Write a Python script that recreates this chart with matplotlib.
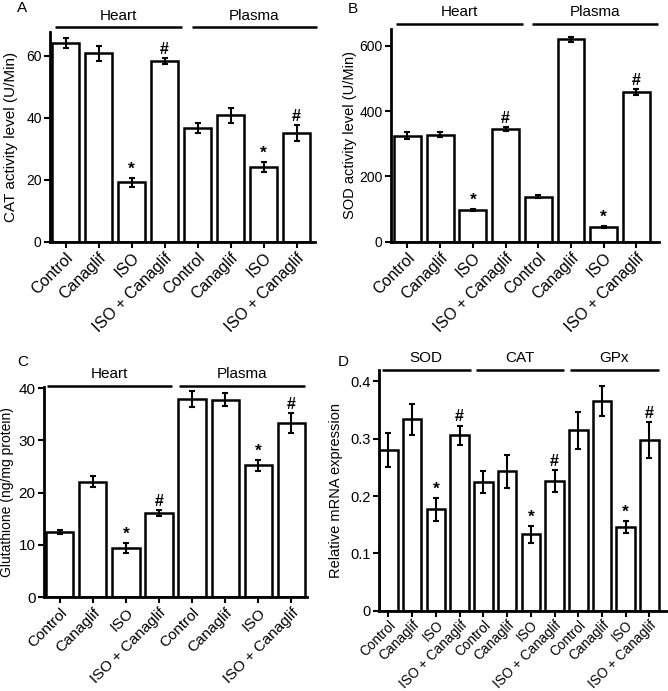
import numpy as np
import matplotlib.pyplot as plt
from matplotlib.transforms import blended_transform_factory

plt.rcParams['font.family'] = ['Liberation Sans', 'DejaVu Sans']

groups = ['Control', 'Canaglif', 'ISO', 'ISO + Canaglif']

# Panel A: CAT activity (U/Min)
cat_mean = [64.2, 60.8, 19.2, 58.3, 36.7, 40.8, 24.2, 35.0]
cat_err = [1.5, 2.5, 1.5, 1.0, 1.5, 2.5, 1.5, 2.6]
# Panel B: SOD activity (U/Min)
sod_mean = [325, 328, 97, 345, 138, 620, 45, 458]
sod_err = [10, 8, 3, 6, 5, 8, 3, 8]
# Panel C: Glutathione (ng/mg protein)
gsh_mean = [12.5, 22.1, 9.4, 16.1, 38.0, 37.8, 25.2, 33.4]
gsh_err = [0.4, 1.0, 0.9, 0.6, 1.5, 1.2, 1.0, 1.9]
# Panel D: relative mRNA expression
mrna_mean = [0.280, 0.334, 0.177, 0.306,
             0.225, 0.243, 0.133, 0.226,
             0.315, 0.366, 0.146, 0.298]
mrna_err = [0.030, 0.027, 0.020, 0.017,
            0.019, 0.028, 0.015, 0.019,
            0.032, 0.027, 0.011, 0.031]

marks_8 = ['', '', '*', '#', '', '', '*', '#']
marks_12 = ['', '', '*', '#'] * 3

fig = plt.figure(figsize=(6.68, 6.91), dpi=100)


def panel(rect, means, errs, marks, ylim, yticks, ylabel, xlim, width,
          brackets, letter, letter_pos, ylabel_x, tick_fs, xtick_fs, ylabel_fs,
          line_y, text_y, xpad=2):
    ax = fig.add_axes(rect)
    n = len(means)
    x = np.arange(n)
    ax.bar(x, means, width=width, color='white', edgecolor='black', linewidth=1.8, zorder=2)
    ax.errorbar(x, means, yerr=errs, fmt='none', ecolor='black', elinewidth=1.5,
                capsize=2.2, capthick=1.5, zorder=3)
    span = ylim[1] - ylim[0]
    for xi, m, e, mk in zip(x, means, errs, marks):
        if mk:
            ax.text(xi, m + e + span * 0.006, mk, ha='center', va='bottom',
                    fontsize=12.5 if mk == '*' else 11.5, fontweight='bold')
    ax.set_xlim(*xlim)
    ax.set_ylim(*ylim)
    ax.set_yticks(yticks)
    ax.set_yticklabels([('%g' % t) for t in yticks], fontsize=tick_fs)
    ax.set_xticks(x)
    labels = groups * (n // 4)
    ax.set_xticklabels(labels, rotation=45, ha='right', rotation_mode='anchor',
                       fontsize=xtick_fs)
    for s in ['top', 'right']:
        ax.spines[s].set_visible(False)
    for s in ['left', 'bottom']:
        ax.spines[s].set_linewidth(2)
    ax.tick_params(width=1.5, length=4, pad=2)
    ax.tick_params(axis='x', pad=xpad)
    ax.set_ylabel(ylabel, fontsize=ylabel_fs)
    ax.yaxis.set_label_coords(ylabel_x, 0.5)
    tr = blended_transform_factory(ax.transData, ax.transAxes)
    for name, x0, x1 in brackets:
        ax.plot([x0, x1], [line_y, line_y], color='black', lw=1.8, transform=tr,
                clip_on=False, solid_capstyle='butt')
        ax.text((x0 + x1) / 2, text_y, name, ha='center', va='bottom', fontsize=11,
                transform=tr)
    fig.text(letter_pos[0], letter_pos[1], letter, fontsize=11, ha='left', va='center')
    return ax


panel([0.0749, 0.6498, 0.3967, 0.3039], cat_mean, cat_err, marks_8,
      (0, 67.7), [0, 20, 40, 60], 'CAT activity level (U/Min)', (-0.47, 7.56), 0.82,
      [('Heart', -0.32, 3.53), ('Plasma', 3.83, 7.62)], 'A', (0.026, 0.988), -0.12,
      10, 11.5, 11, 1.024, 1.045)

panel([0.585, 0.6502, 0.4015, 0.3078], sod_mean, sod_err, marks_8,
      (0, 651), [0, 200, 400, 600], 'SOD activity level (U/Min)', (-0.51, 7.69), 0.82,
      [('Heart', -0.35, 3.53), ('Plasma', 3.81, 7.66)], 'B', (0.52, 0.987), -0.125,
      10, 11.5, 10.5, 1.024, 1.045)

panel([0.0659, 0.136, 0.3937, 0.3044], gsh_mean, gsh_err, marks_8,
      (0, 40.3), [0, 10, 20, 30, 40], 'Glutathione (ng/mg protein)', (-0.48, 7.48), 0.82,
      [('Heart', -0.4, 3.4), ('Plasma', 3.62, 7.42)], 'C', (0.026, 0.476), -0.114,
      11, 11, 10, 1.003, 1.025)

panel([0.567, 0.1162, 0.4315, 0.3483], mrna_mean, mrna_err, marks_12,
      (0, 0.42), [0, 0.1, 0.2, 0.3, 0.4], 'Relative mRNA expression', (-0.41, 11.74), 0.78,
      [('SOD', -0.28, 3.47), ('CAT', 3.68, 7.4), ('GPx', 7.65, 11.4)], 'D', (0.505, 0.476),
      -0.125, 10.5, 9.8, 10.5, 1.0, 1.02, xpad=1)

fig.savefig('out.png', dpi=100)
